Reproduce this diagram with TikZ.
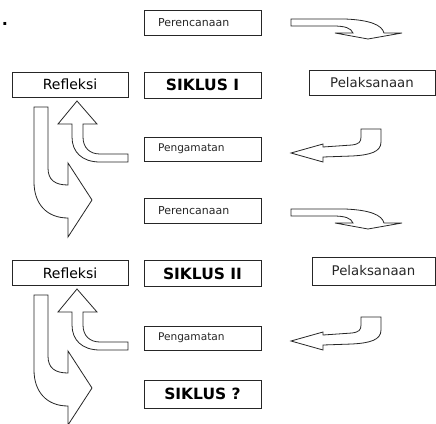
\documentclass[tikz,border=0pt]{standalone}
\usepackage{fontspec}
\setmainfont{DejaVu Sans}
\begin{document}
\begin{tikzpicture}[x=1pt,y=-1pt,line width=0.8pt,
  box/.style={draw=black!85,inner sep=0pt,minimum height=25pt},
  leftbox/.style={box,text width=89pt,inner xsep=14pt,align=left},
  lab/.style={font=\fontsize{11}{13}\selectfont,text=black!85},
  labs/.style={font=\fontsize{10.6}{12}\selectfont,text=black!85},
  labr/.style={font=\fontsize{14}{16}\selectfont},
  labp/.style={font=\fontsize{13.3}{15}\selectfont,text=black!85},
  labb/.style={font=\fontsize{15.5}{17}\selectfont\bfseries},
  arr/.style={draw=black!85,fill=white,line join=miter},
  arrA/.pic={\draw[arr] (291,19) -- (345,19) .. controls (370,20) and (382,25) .. (384,33)
      -- (402,33) -- (368,39) -- (335,33) -- (353,33)
      .. controls (351,28) and (345,26) .. (333,26) -- (291,26) -- cycle;},
  arrB/.pic={\draw[arr] (291,153) -- (323,144) -- (323,147) -- (352,145)
      .. controls (359,144) and (361,142) .. (361,137) -- (361,129) -- (381,129) -- (381,142)
      .. controls (381,152) and (370,155) .. (352,156) -- (323,157) -- (323,162) -- cycle;},
  arrC/.pic={\draw[arr] (77,101) -- (97,124) -- (83,124) -- (83,137)
      .. controls (83,148) and (90,154) .. (100,154) -- (128,154) -- (128,162) -- (100,162)
      .. controls (82,162) and (72,152) .. (72,137) -- (72,124) -- (58,124) -- cycle;},
  arrD/.pic={\draw[arr] (34,107) -- (48,107) -- (48,168)
      .. controls (48,180) and (55,185) .. (68,185) -- (68,163) -- (92,200) -- (68,237) -- (68,218)
      .. controls (46,218) and (34,203) .. (34,182) -- cycle;}
]
\useasboundingbox (0,0) rectangle (436,423);

\node[font=\fontsize{16}{16}\selectfont\bfseries,inner sep=0pt] (dot) at (5,23.5) {.};

% cycle I
\node[leftbox,lab,minimum height=25pt] (per1) at (202.5,22.5) {Perencanaan};
\node[box,labr,minimum width=116pt] (ref1) at (70,84.5) {Refleksi};
\node[box,labb,minimum width=117pt,minimum height=26pt] (sik1) at (202.5,85) {SIKLUS I};
\node[box,labp,minimum width=126pt] (pel1) at (372,82.5) {Pelaksanaan};
\node[leftbox,labs,minimum height=24pt] (pen1) at (202.5,149) {Pengamatan};

% cycle II
\node[leftbox,lab,minimum height=25pt] (per2) at (202.5,210.5) {Perencanaan};
\node[box,labr,minimum width=116pt] (ref2) at (70,273) {Refleksi};
\node[box,labb,minimum width=117pt,minimum height=26pt] (sik2) at (202.5,273.5) {SIKLUS II};
\node[box,labp,minimum width=123pt,minimum height=28pt] (pel2) at (373.5,271) {Pelaksanaan};
\node[leftbox,labs,minimum height=24pt] (pen2) at (202.5,338) {Pengamatan};

\node[box,labb,minimum width=117pt,minimum height=28pt] (sik3) at (202.5,394) {SIKLUS ?};

% block arrows
\pic at (0,0) {arrA};
\pic at (0,190) {arrA};
\pic at (0,0) {arrB};
\pic at (0,188) {arrB};
\pic at (0,0) {arrC};
\pic at (0,188) {arrC};
\pic at (0,0) {arrD};
\pic at (0,188) {arrD};
\end{tikzpicture}
\end{document}
